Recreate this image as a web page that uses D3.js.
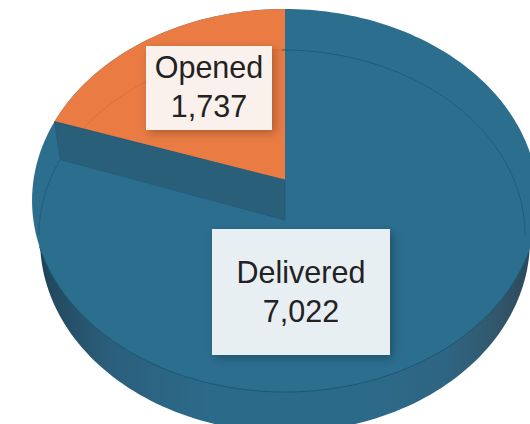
<!DOCTYPE html>
<html>
<head>
<meta charset="utf-8">
<script src="https://cdn.jsdelivr.net/npm/d3@7"></script>
<style>html,body{margin:0;padding:0;background:#fff;overflow:hidden}svg{display:block}</style>
</head>
<body>
<svg id="c" width="530" height="424"></svg>
<script>
const categories = ["Delivered", "Opened"];
const values = [7022, 1737];

(function () {
const svg = d3.select("#c");
const fmt = d3.format(",");
const BLUE = "#2c6e8e", ORANGE = "#e97b43", WALL = "#2a5f79", EDGE = "#1f5a7a";

// Perspective projection of a unit disc (angle clockwise from 12 o'clock).
function disc(cx, cy, A, B, k) {
  return a => {
    const u = Math.sin(a), v = Math.cos(a), w = 1 + k * v;
    return [cx + A * u / w, cy - B * v / w];
  };
}
const face = disc(285, 180, 251.5, 189.3, 0.107);   // upper face
const base = disc(285, 220, 243.5, 189.3, 0.107);   // lower rim of the side wall
const inner = disc(282, 235, 243, 185, 0);          // faint inner rim

const line = d3.line();
const sweep = (f, a0, a1, n = 240) => d3.range(n + 1).map(i => f(a0 + (a1 - a0) * i / n));
const TAU = Math.PI * 2;

const arcs = d3.pie().sort(null).value(d => d)(values);
const opened = arcs[1];
const corner = opened.startAngle + 0.095;

const defs = svg.append("defs");
const grad = defs.append("linearGradient").attr("id", "side")
  .attr("gradientUnits", "userSpaceOnUse")
  .attr("x1", 32).attr("x2", 538).attr("y1", 0).attr("y2", 0);
[[0, "#1c3a4c"], [0.04, "#234a60"], [0.16, "#2b5f7d"], [0.35, "#2c6a8a"], [0.65, "#2c6a8a"], [0.82, "#2e6582"], [0.92, "#33566b"], [1, "#2a4557"]]
  .forEach(([o, c]) => grad.append("stop").attr("offset", o).attr("stop-color", c));
const shadow = defs.append("filter").attr("id", "shadow")
  .attr("x", "-20%").attr("y", "-20%").attr("width", "140%").attr("height", "140%");
shadow.append("feDropShadow").attr("dx", 3).attr("dy", 3).attr("stdDeviation", 5)
  .attr("flood-color", "#000").attr("flood-opacity", 0.26);

// side wall
svg.append("path").attr("d", line(sweep(base, 0, TAU)) + "Z").attr("fill", "url(#side)");

// top face and slices
svg.append("path").attr("d", line(sweep(face, 0, TAU)) + "Z").attr("fill", BLUE);
svg.append("path")
  .attr("d", line([...sweep(face, opened.startAngle, opened.endAngle, 80), [285, 180]]) + "Z")
  .attr("fill", ORANGE);

// front edge of the top face
svg.append("path").attr("d", line(sweep(face, Math.PI * 0.63, Math.PI * 1.39)))
  .attr("fill", "none").attr("stroke", "#1d5674").attr("stroke-width", 1);

// faint inner rim: on blue left of the wedge, on orange, on blue right of the wedge
const rims = [
  [Math.PI * 1.5, corner, EDGE],
  [corner, TAU, "#dd6f38"],
  [0, Math.PI * 0.5, EDGE]
];
rims.forEach(([a0, a1, c]) =>
  svg.append("path").attr("d", line(sweep(inner, a0, a1)))
    .attr("fill", "none").attr("stroke", c).attr("stroke-width", 1));

// wall beneath the orange slice's edge
const wallPts = [face(opened.startAngle), [285, 180], [285, 220], inner(corner)];
svg.append("path").attr("d", line(wallPts) + "Z")
  .attr("fill", WALL).attr("stroke", EDGE).attr("stroke-width", 0.7);

// labels
const boxes = [
  { x: 212, y: 229, w: 178, h: 126, fill: "#e8eff2", tx: 301, b1: 283, b2: 322 },
  { x: 146, y: 46, w: 126, h: 84, fill: "#faf1ec", tx: 209, b1: 78, b2: 117 }
];
boxes.forEach((b, i) => {
  const g = svg.append("g");
  g.append("rect").attr("x", b.x).attr("y", b.y).attr("width", b.w).attr("height", b.h)
    .attr("fill", b.fill).attr("filter", "url(#shadow)");
  [[categories[i], b.b1], [fmt(values[i]), b.b2]].forEach(([t, y]) =>
    g.append("text").attr("x", b.tx).attr("y", y).attr("text-anchor", "middle")
      .attr("font-family", "'Liberation Sans', Arial, sans-serif")
      .attr("font-size", 30.5).attr("fill", "#222").text(t));
});
})();
</script>
</body>
</html>
